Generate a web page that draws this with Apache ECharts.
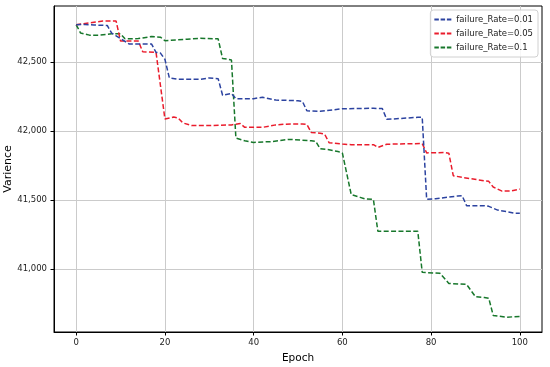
<!DOCTYPE html>
<html><head><meta charset="utf-8">
<script src="https://cdn.jsdelivr.net/npm/echarts@6/dist/echarts.min.js"></script>
<style>html,body{margin:0;padding:0;background:#fff}#c{width:550px;height:367px}</style>
</head><body><div id="c"></div>
<script>
const xTicks = [0, 20, 40, 60, 80, 100];
const yTicks = [41000, 41500, 42000, 42500];

const seriesNames = ['failure_Rate=0.01', 'failure_Rate=0.05', 'failure_Rate=0.1'];

const blueEpochs = [0,2,4,7,8,9,10,12,17,18,19,20,21,23,28,30,32,33,35,36,40,42,45,50,51,52,55,60,67,69,70,77,78,79,81,86,87,88,92,93,95,99,100];
const blueValues = [42770,42772,42768,42765,42710,42690,42670,42630,42630,42570,42565,42520,42385,42375,42375,42385,42380,42260,42272,42235,42235,42245,42225,42220,42215,42147,42143,42162,42165,42163,42085,42100,42100,41507,41510,41530,41532,41460,41460,41455,41428,41405,41405];

const redEpochs = [0,4,6,9,10,14,15,18,20,22,23,24,26,30,35,37,38,42,45,47,51,52,53,55,56,57,60,62,67,68,70,78,79,83,84,85,87,92,93,94,96,98,100];
const redValues = [42770,42788,42797,42797,42652,42652,42575,42570,42088,42102,42095,42060,42040,42040,42045,42055,42027,42027,42045,42050,42052,42048,41990,41985,41978,41916,41906,41902,41902,41882,41905,41910,41842,41845,41840,41677,41665,41640,41636,41595,41565,41567,41580];

const greenEpochs = [0,1,3,5,8,10,11,14,17,19,20,25,28,32,33,34,35,36,38,40,44,48,53,54,55,57,59,60,62,64,65,67,68,77,78,82,84,88,90,92,93,94,97,100];
const greenValues = [42770,42710,42695,42695,42705,42705,42668,42670,42685,42680,42655,42665,42672,42668,42526,42522,42515,41950,41930,41918,41924,41940,41930,41926,41872,41865,41852,41842,41540,41520,41510,41505,41275,41275,40977,40970,40897,40890,40800,40795,40790,40665,40652,40658];

const colors = ['#2c43a0', '#ea1c2c', '#17772b'];

function pairs(xs, ys) { return xs.map((x, i) => [x, ys[i]]); }
const dataSets = [pairs(blueEpochs, blueValues), pairs(redEpochs, redValues), pairs(greenEpochs, greenValues)];

const font = 'DejaVu Sans';
const chart = echarts.init(document.getElementById('c'), null, {renderer: 'canvas'});
chart.setOption({
  animation: false,
  backgroundColor: '#fff',
  grid: {left: 54, top: 6, right: 8, bottom: 35, containLabel: false, outerBoundsMode: 'none',
    show: true, borderColor: '#000', borderWidth: 1, backgroundColor: 'transparent'},
  legend: {
    orient: 'vertical', right: 12, top: 10,
    data: seriesNames,
    itemWidth: 17, itemHeight: 10, itemGap: 5,
    padding: [5, 5, 5, 4],
    borderColor: '#d0d0d0', borderWidth: 1, borderRadius: 3,
    backgroundColor: 'rgba(255,255,255,0.85)',
    textStyle: {fontFamily: font, fontSize: 8.5, color: '#222'},
    icon: 'path://M0,4 L5,4 L5,6 L0,6 Z M7,4 L12,4 L12,6 L7,6 Z M14,4 L19,4 L19,6 L14,6 Z'
  },
  xAxis: {
    type: 'value', min: -5, max: 105,
    name: 'Epoch', nameLocation: 'middle', nameGap: 21, nameMoveOverlap: false,
    nameTextStyle: {fontFamily: font, fontSize: 10.5, color: '#000'},
    axisLine: {show: true, onZero: false, lineStyle: {color: '#000', width: 1}},
    axisTick: {show: true, length: 3.5, customValues: xTicks, lineStyle: {color: '#000'}},
    axisLabel: {customValues: xTicks, margin: 6, fontFamily: font, fontSize: 8.5, color: '#222'},
    splitLine: {show: true, lineStyle: {color: '#cbcbcb', width: 1}}
  },
  yAxis: {
    type: 'value', min: 40545, max: 42906,
    name: 'Varience', nameLocation: 'middle', nameGap: 40, nameMoveOverlap: false,
    nameTextStyle: {fontFamily: font, fontSize: 11, color: '#000'},
    axisLine: {show: true, onZero: false, lineStyle: {color: '#000', width: 1}},
    axisTick: {show: true, length: 3.5, customValues: yTicks, lineStyle: {color: '#000'}},
    axisLabel: {customValues: yTicks, margin: 7, fontFamily: font, fontSize: 8.5, color: '#222',
      formatter: v => Math.round(v).toLocaleString('en-US')},
    splitLine: {show: true, lineStyle: {color: '#cbcbcb', width: 1}}
  },
  series: seriesNames.map((n, i) => ({
    name: n, type: 'line', data: dataSets[i], showSymbol: false, symbol: 'none',
    itemStyle: {color: colors[i]},
    lineStyle: {color: colors[i], width: 1.5, type: [5, 2.4]},
    z: 3 - i
  }))
});
</script></body></html>
